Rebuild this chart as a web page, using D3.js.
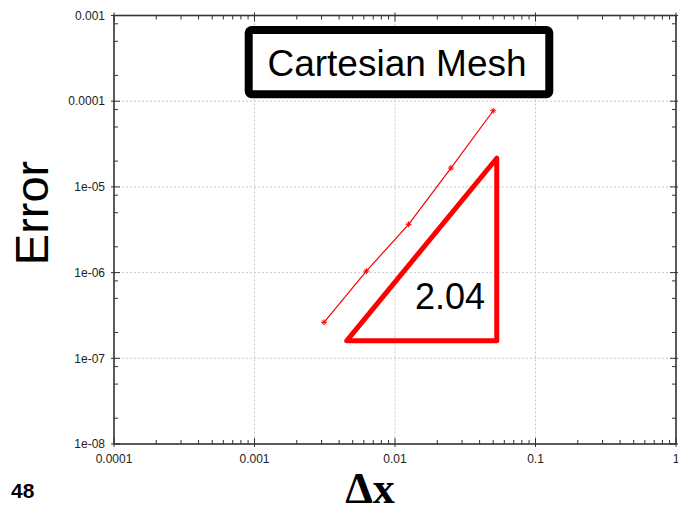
<!DOCTYPE html>
<html>
<head>
<meta charset="utf-8">
<script src="https://cdn.jsdelivr.net/npm/d3@7"></script>
<style>
  html, body { margin: 0; padding: 0; background: #fff; }
  svg { display: block; font-family: "Liberation Sans", Arial, sans-serif; }
</style>
</head>
<body>
<svg id="chart" width="678" height="507"></svg>
<script>
// Grid spacing and error of the Cartesian-mesh convergence study
const dx = [0.003125, 0.00625, 0.0125, 0.025, 0.05];
const errorValues = [2.63e-7, 1.04e-6, 3.66e-6, 1.66e-5, 7.74e-5];

// Slope triangle (order of accuracy) and its label
const slopeX = [0.00453, 0.053, 0.053];
const slopeY = [1.6e-7, 2.16e-5, 1.6e-7];
const slopeLabel = "2.04";

// Axis decades and tick labels
const xDecades = [1e-4, 1e-3, 1e-2, 1e-1, 1];
const xTickLabels = ["0.0001", "0.001", "0.01", "0.1", "1"];
const yDecades = [1e-8, 1e-7, 1e-6, 1e-5, 1e-4, 1e-3];
const yTickLabels = ["1e-08", "1e-07", "1e-06", "1e-05", "0.0001", "0.001"];
const xMinorMult = [2, 3, 4, 5, 6, 7, 8, 9];
const yMinorMult = [2, 5, 8];

const titleText = "Cartesian Mesh";
const xTitle = "\u0394x";
const yTitle = "Error";
const pageNumber = "48";

const svg = d3.select("#chart");
const L = 114, R = 676, T = 15.5, B = 444;

const x = d3.scaleLog().domain([1e-4, 1]).range([L, R]);
const y = d3.scaleLog().domain([1e-8, 1e-3]).range([B, T]);

const axisColor = "#333";

// Grid lines at interior decades
const grid = svg.append("g").attr("stroke", "#c8c8c8").attr("stroke-width", 1)
  .attr("stroke-dasharray", "2,2");
xDecades.slice(1, -1).forEach(v => {
  grid.append("line").attr("x1", x(v)).attr("x2", x(v)).attr("y1", T).attr("y2", B);
});
yDecades.slice(1, -1).forEach(v => {
  grid.append("line").attr("y1", y(v)).attr("y2", y(v)).attr("x1", L).attr("x2", R);
});

// Minor tick values
const xMinor = [];
xDecades.slice(0, -1).forEach(d => xMinorMult.forEach(m => xMinor.push(d * m)));
const yMinor = [];
yDecades.slice(0, -1).forEach(d => yMinorMult.forEach(m => yMinor.push(d * m)));

const ticks = svg.append("g").attr("stroke", axisColor).attr("stroke-width", 1);
// bottom & top
xMinor.forEach(v => {
  ticks.append("line").attr("x1", x(v)).attr("x2", x(v)).attr("y1", B).attr("y2", B - 4);
  ticks.append("line").attr("x1", x(v)).attr("x2", x(v)).attr("y1", T).attr("y2", T + 4);
});
xDecades.forEach(v => {
  ticks.append("line").attr("x1", x(v)).attr("x2", x(v)).attr("y1", B + 3).attr("y2", B - 6);
  ticks.append("line").attr("x1", x(v)).attr("x2", x(v)).attr("y1", T - 3).attr("y2", T + 6);
});
// left & right
yMinor.forEach(v => {
  ticks.append("line").attr("y1", y(v)).attr("y2", y(v)).attr("x1", L).attr("x2", L + 4);
  ticks.append("line").attr("y1", y(v)).attr("y2", y(v)).attr("x1", R).attr("x2", R - 4);
});
yDecades.forEach(v => {
  ticks.append("line").attr("y1", y(v)).attr("y2", y(v)).attr("x1", L - 3).attr("x2", L + 6);
  ticks.append("line").attr("y1", y(v)).attr("y2", y(v)).attr("x1", R + 3).attr("x2", R - 6);
});

// Frame
svg.append("rect").attr("x", L).attr("y", T).attr("width", R - L).attr("height", B - T)
  .attr("fill", "none").attr("stroke", axisColor).attr("stroke-width", 1.6);

// Tick labels
svg.append("g").selectAll("text").data(xDecades).join("text")
  .attr("x", d => x(d)).attr("y", 462.5)
  .attr("text-anchor", "middle").attr("font-size", 12).attr("fill", "#222")
  .text((d, i) => xTickLabels[i]);
svg.append("g").selectAll("text").data(yDecades).join("text")
  .attr("x", 105).attr("y", d => y(d)).attr("dy", "0.35em")
  .attr("text-anchor", "end").attr("font-size", 12).attr("fill", "#222")
  .text((d, i) => yTickLabels[i]);

// Title box
svg.append("rect").attr("x", 248.7).attr("y", 30).attr("width", 300.6).attr("height", 64.3)
  .attr("rx", 3).attr("fill", "#fff").attr("stroke", "#000").attr("stroke-width", 8);
svg.append("text").attr("x", 397).attr("y", 76).attr("text-anchor", "middle")
  .attr("font-size", 37).attr("fill", "#000").text(titleText);

// Error series
const pts = dx.map((d, i) => [d, errorValues[i]]);
svg.append("path").datum(pts)
  .attr("d", d3.line().x(d => x(d[0])).y(d => y(d[1])))
  .attr("fill", "none").attr("stroke", "#ff0000").attr("stroke-width", 1.2);
svg.append("g").selectAll("path").data(pts).join("path")
  .attr("transform", d => `translate(${x(d[0])},${y(d[1])})`)
  .attr("d", "M-3,0H3M0,-3V3M-2,-2L2,2M-2,2L2,-2")
  .attr("stroke", "#ff0000").attr("stroke-width", 1).attr("fill", "none");

// Slope triangle
const tri = slopeX.map((v, i) => [v, slopeY[i]]);
svg.append("path").datum(tri)
  .attr("d", d3.line().x(d => x(d[0])).y(d => y(d[1])).curve(d3.curveLinearClosed))
  .attr("fill", "none").attr("stroke", "#ff0000").attr("stroke-width", 5)
  .attr("stroke-linejoin", "round");
svg.append("text").attr("x", 450).attr("y", 308.5).attr("text-anchor", "middle")
  .attr("font-size", 36).attr("fill", "#000").text(slopeLabel);

// Axis titles
svg.append("text").attr("transform", "translate(48,213) rotate(-90)")
  .attr("text-anchor", "middle").attr("font-size", 47).attr("fill", "#000").text(yTitle);
svg.append("text").attr("x", 370).attr("y", 503).attr("text-anchor", "middle")
  .style("font-family", "'Liberation Serif', 'DejaVu Serif', serif")
  .style("font-weight", "bold").style("font-size", "44px").attr("fill", "#000").text(xTitle);

svg.append("text").attr("x", 11).attr("y", 498).attr("font-size", 21)
  .attr("font-weight", "bold").attr("fill", "#000").text(pageNumber);
</script>
</body>
</html>
